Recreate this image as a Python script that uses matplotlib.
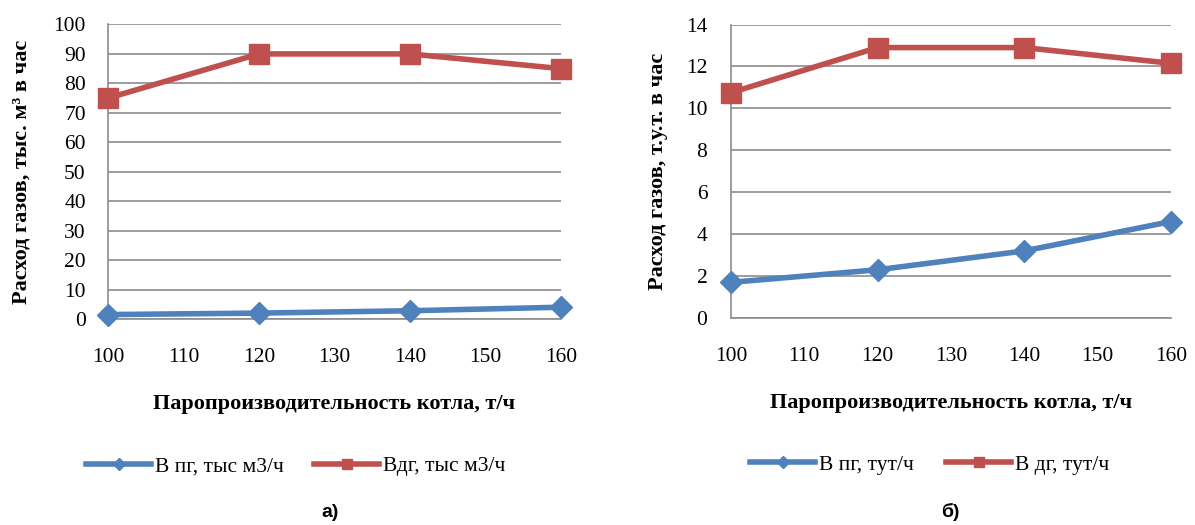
import numpy as np
import matplotlib
matplotlib.use("Agg")
import matplotlib.pyplot as plt

# data
steam = [100, 120, 140, 160]
xticks = [100, 110, 120, 130, 140, 150, 160]

b_pg_m3 = [1.5, 2.0, 2.8, 4.0]
b_dg_m3 = [75, 90, 90, 85]
b_pg_tut = [1.7, 2.3, 3.2, 4.6]
b_dg_tut = [10.75, 12.9, 12.9, 12.15]

blue = "#4F81BD"
red = "#C0504D"
grid_c = "#8C8C8C"

plt.rcParams['font.family'] = ['Liberation Serif', 'DejaVu Serif']

fig = plt.figure(figsize=(11.95, 5.25), dpi=100)
ax1 = fig.add_axes([0.0904, 0.3924, 0.3791, 0.561])
ax2 = fig.add_axes([0.6117, 0.3943, 0.3682, 0.559])


def style(ax, ylim, yticks, ylabel, ypad, ylabx):
    ax.set_xlim(100, 160)
    ax.set_ylim(*ylim)
    ax.set_xticks(xticks, [str(v) for v in xticks])
    ax.set_yticks(yticks, [str(v) for v in yticks])
    ax.grid(axis='y', color=grid_c, lw=1.2)
    ax.set_axisbelow(True)
    for s in ['top', 'right']:
        ax.spines[s].set_visible(False)
    ax.spines['left'].set_color(grid_c)
    ax.spines['bottom'].set_color(grid_c)
    ax.spines['left'].set_linewidth(1.2)
    ax.spines['bottom'].set_linewidth(1.2)
    ax.tick_params(axis='x', length=0, pad=21, labelsize=15.5)
    ax.tick_params(axis='y', length=0, pad=ypad, labelsize=15.5)
    ax.set_ylabel(ylabel, fontsize=16, fontweight='bold')
    ax.yaxis.set_label_coords(ylabx, 0.5)
    ax.set_xlabel("Паропроизводительность котла, т/ч", fontsize=16, fontweight='bold')
    ax.xaxis.set_label_coords(0.5, -0.255)
    ax.xaxis.label.set_va('top')


l1, = ax1.plot(steam, b_pg_m3, color=blue, lw=4, marker='D', ms=11, clip_on=False, zorder=3)
l2, = ax1.plot(steam, b_dg_m3, color=red, lw=4, marker='s', ms=14, clip_on=False, zorder=3)
style(ax1, (0, 100), np.arange(0, 101, 10), "Расход газов, тыс. м³ в час", 16, -0.17)
ax1.legend([l1, l2], ["В пг, тыс м3/ч", "Вдг, тыс м3/ч"], loc='center', ncol=2,
           bbox_to_anchor=(0.415, -0.5), frameon=False, fontsize=15.5, markerscale=0.55,
           handlelength=3.0, columnspacing=1.4, handletextpad=0.2)

r1, = ax2.plot(steam, b_pg_tut, color=blue, lw=4, marker='D', ms=11, clip_on=False, zorder=3)
r2, = ax2.plot(steam, b_dg_tut, color=red, lw=4, marker='s', ms=14, clip_on=False, zorder=3)
style(ax2, (0, 14), np.arange(0, 15, 2), "Расход газов, т.у.т. в час", 17, -0.143)
ax2.legend([r1, r2], ["В пг, тут/ч", "В дг, тут/ч"], loc='center', ncol=2,
           bbox_to_anchor=(0.452, -0.5), frameon=False, fontsize=15.5, markerscale=0.55,
           handlelength=3.0, columnspacing=1.5, handletextpad=0.2)

fig.text(0.276, 0.008, "а)", ha='center', va='bottom', fontsize=14, fontweight='bold',
         family=['Liberation Sans', 'DejaVu Sans'])
fig.text(0.795, 0.008, "б)", ha='center', va='bottom', fontsize=14, fontweight='bold',
         family=['Liberation Sans', 'DejaVu Sans'])

fig.savefig("out.png", dpi=100)
